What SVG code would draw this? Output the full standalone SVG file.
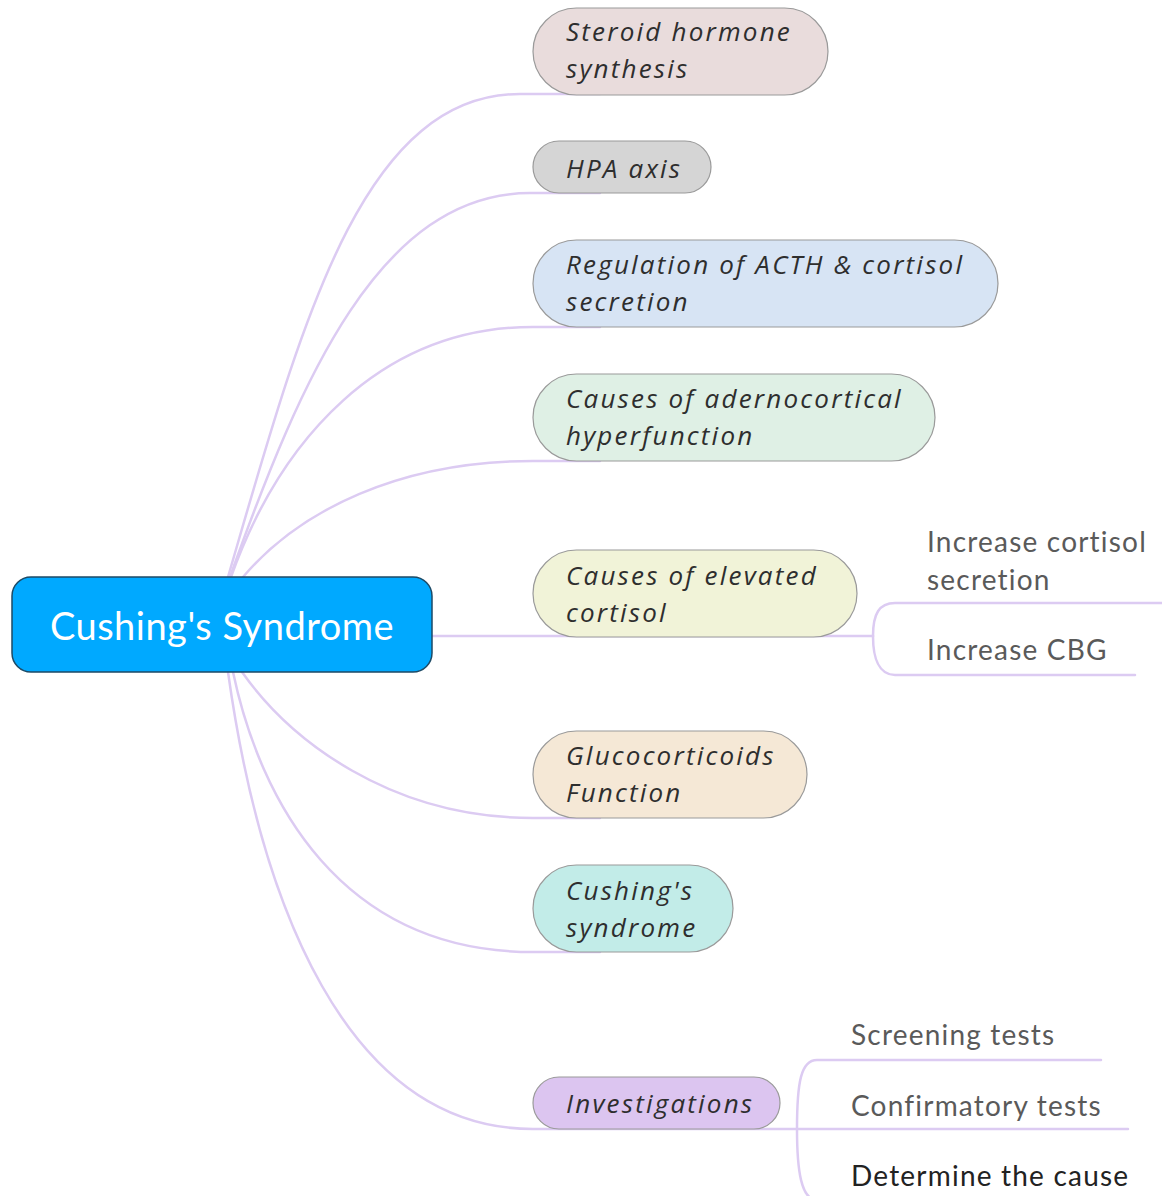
<svg xmlns="http://www.w3.org/2000/svg" width="1162" height="1196" viewBox="0 0 1162 1196">
<style>
.conn{fill:none;stroke:#dccbf2;stroke-width:2.5;stroke-linecap:round}
.node{stroke:#9a9a9a;stroke-width:1.2}
.bt{font-family:"Open Sans","DejaVu Sans",sans-serif;font-style:italic;font-size:26px;letter-spacing:2.2px;fill:#2e2e2e}
.st{font-family:"Lato","Open Sans",sans-serif;font-size:28px;letter-spacing:1.2px;fill:#5a5a5a}
.rt{font-family:"Lato","Open Sans",sans-serif;font-size:38px;letter-spacing:0.5px;fill:#ffffff}
</style>
<rect width="1162" height="1196" fill="#ffffff"/>
<g id="connectors">
  <path class="conn" d="M228 577 C300 330 360 94 520 94 L600 94"/>
  <path class="conn" d="M230 577 C300 380 380 193 530 193 L600 193"/>
  <path class="conn" d="M231 577 C280 440 380 327 533 327 L600 327"/>
  <path class="conn" d="M243 577 C300 510 400 461 533 461 L600 461"/>
  <path class="conn" d="M432 636 L873 636"/>
  <path class="conn" d="M242 672 C290 740 390 818 533 818 L600 818"/>
  <path class="conn" d="M233 672 C260 800 340 952 533 952 L600 952"/>
  <path class="conn" d="M228 672 C260 900 345 1129 533 1129 L797 1129"/>
  <path class="conn" d="M873 636 C873 614 879 603 895 603 L1162 603"/>
  <path class="conn" d="M873 636 C873 658 879 675 895 675 L1135 675"/>
  <path class="conn" d="M797 1129 C797 1082 801 1060 817 1060 L1101 1060"/>
  <path class="conn" d="M797 1129 L1128 1129"/>
  <path class="conn" d="M797 1129 C797 1170 801 1200 817 1200 L900 1200"/>
</g>
<g id="root">
  <rect x="12" y="577" width="420" height="95" rx="19" fill="#00a9ff" stroke="#1c4a66" stroke-width="1.5"/>
  <text class="rt" x="222" y="640" text-anchor="middle">Cushing's Syndrome</text>
</g>
<g id="n-steroid">
  <rect class="node" x="533" y="8" width="295" height="87" rx="43.5" fill="#e9dcdc"/>
  <text class="bt" x="566" y="41">Steroid hormone</text>
  <text class="bt" x="566" y="78">synthesis</text>
</g>
<g id="n-hpa">
  <rect class="node" x="533" y="141" width="178" height="52" rx="26" fill="#d5d5d5"/>
  <text class="bt" x="566" y="178">HPA axis</text>
</g>
<g id="n-regulation">
  <rect class="node" x="533" y="240" width="465" height="87" rx="43.5" fill="#d7e4f4"/>
  <text class="bt" x="566" y="274">Regulation of ACTH &amp; cortisol</text>
  <text class="bt" x="566" y="311">secretion</text>
</g>
<g id="n-adreno">
  <rect class="node" x="533" y="374" width="402" height="87" rx="43.5" fill="#dff0e5"/>
  <text class="bt" x="566" y="408">Causes of adernocortical</text>
  <text class="bt" x="566" y="445">hyperfunction</text>
</g>
<g id="n-elevated">
  <rect class="node" x="533" y="550" width="324" height="87" rx="43.5" fill="#f1f3d8"/>
  <text class="bt" x="566" y="585">Causes of elevated</text>
  <text class="bt" x="566" y="622">cortisol</text>
</g>
<g id="n-gluco">
  <rect class="node" x="533" y="731" width="274" height="87" rx="43.5" fill="#f5e8d6"/>
  <text class="bt" x="566" y="765">Glucocorticoids</text>
  <text class="bt" x="566" y="802">Function</text>
</g>
<g id="n-cushing">
  <rect class="node" x="533" y="865" width="200" height="87" rx="43.5" fill="#c2ece8"/>
  <text class="bt" x="566" y="900">Cushing's</text>
  <text class="bt" x="566" y="937">syndrome</text>
</g>
<g id="n-invest">
  <rect class="node" x="533" y="1077" width="247" height="52" rx="26" fill="#dcc5f0"/>
  <text class="bt" x="566" y="1113">Investigations</text>
</g>
<g id="s-cortisol">
  <text class="st" x="927" y="552">Increase cortisol</text>
  <text class="st" x="927" y="590">secretion</text>
</g>
<g id="s-cbg">
  <text class="st" x="927" y="660">Increase CBG</text>
</g>
<g id="s-screening">
  <text class="st" x="851" y="1045">Screening tests</text>
</g>
<g id="s-confirm">
  <text class="st" x="851" y="1116">Confirmatory tests</text>
</g>
<g id="s-cause">
  <text class="st" x="851" y="1186" style="fill:#222">Determine the cause</text>
</g>
</svg>
